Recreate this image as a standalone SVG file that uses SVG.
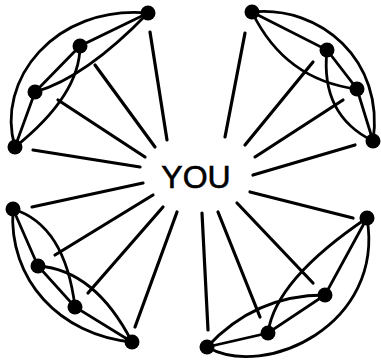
<svg xmlns="http://www.w3.org/2000/svg" width="381" height="363" viewBox="0 0 381 363">
<style>
.e{fill:none;stroke:#000;stroke-width:2.8;stroke-linecap:round}
.s{stroke:#000;stroke-width:3.2;stroke-linecap:round}
.n{fill:#000}
.t{font-family:"Liberation Sans",Arial,sans-serif;font-size:32px;fill:#000;stroke:#000;stroke-width:0.6}
</style>
<rect width="381" height="363" fill="#fff"/>
<g id="spokes">
<line class="s" x1="150" y1="32" x2="167" y2="140"/>
<line class="s" x1="95" y1="65" x2="155" y2="147"/>
<line class="s" x1="58" y1="100" x2="145" y2="157"/>
<line class="s" x1="33" y1="150" x2="140" y2="167"/>
<line class="s" x1="245" y1="33" x2="225" y2="137"/>
<line class="s" x1="313" y1="62" x2="245" y2="145"/>
<line class="s" x1="343" y1="100" x2="255" y2="157"/>
<line class="s" x1="355" y1="145" x2="253" y2="175"/>
<line class="s" x1="143" y1="183" x2="32" y2="207"/>
<line class="s" x1="153" y1="195" x2="55" y2="255"/>
<line class="s" x1="163" y1="207" x2="88" y2="293"/>
<line class="s" x1="177" y1="212" x2="135" y2="327"/>
<line class="s" x1="250" y1="192" x2="353" y2="218"/>
<line class="s" x1="237" y1="203" x2="313" y2="283"/>
<line class="s" x1="218" y1="212" x2="260" y2="317"/>
<line class="s" x1="202" y1="213" x2="208" y2="330"/>
</g>
<g id="cluster-top-left">
<path class="e" d="M15,147 C-5,80 55,5 148,13"/>
<path class="e" d="M15,147 L35,92 L80,46 L148,13"/>
<path class="e" d="M148,13 Q85,78 35,92"/>
<path class="e" d="M80,46 Q80,95 15,147"/>
<circle class="n" cx="148" cy="13" r="7.5"/>
<circle class="n" cx="80" cy="46" r="7.5"/>
<circle class="n" cx="35" cy="92" r="7.5"/>
<circle class="n" cx="15" cy="147" r="7.5"/>
</g>
<g id="cluster-top-right">
<path class="e" d="M252,12 C320,5 385,60 373,141"/>
<path class="e" d="M252,12 L327,50 L357,89 L373,141"/>
<path class="e" d="M252,12 Q285,80 357,89"/>
<path class="e" d="M327,50 Q320,115 373,141"/>
<circle class="n" cx="252" cy="12" r="7.5"/>
<circle class="n" cx="327" cy="50" r="7.5"/>
<circle class="n" cx="357" cy="89" r="7.5"/>
<circle class="n" cx="373" cy="141" r="7.5"/>
</g>
<g id="cluster-bottom-left">
<path class="e" d="M13,209 C8,280 60,335 132,342"/>
<path class="e" d="M13,209 L38,266 L75,307 L132,342"/>
<path class="e" d="M13,209 Q65,225 75,307"/>
<path class="e" d="M38,266 Q95,270 132,342"/>
<circle class="n" cx="13" cy="209" r="7.5"/>
<circle class="n" cx="38" cy="266" r="7.5"/>
<circle class="n" cx="75" cy="307" r="7.5"/>
<circle class="n" cx="132" cy="342" r="7.5"/>
</g>
<g id="cluster-bottom-right">
<path class="e" d="M207,347 C265,380 385,325 367,218"/>
<path class="e" d="M207,347 L268,333 L325,295 L367,218"/>
<path class="e" d="M207,347 Q255,295 325,295"/>
<path class="e" d="M268,333 Q275,280 367,218"/>
<circle class="n" cx="207" cy="347" r="7.5"/>
<circle class="n" cx="268" cy="333" r="7.5"/>
<circle class="n" cx="325" cy="295" r="7.5"/>
<circle class="n" cx="367" cy="218" r="7.5"/>
</g>
<g id="you">
<text class="t" x="196" y="188" text-anchor="middle">YOU</text>
</g>
</svg>
